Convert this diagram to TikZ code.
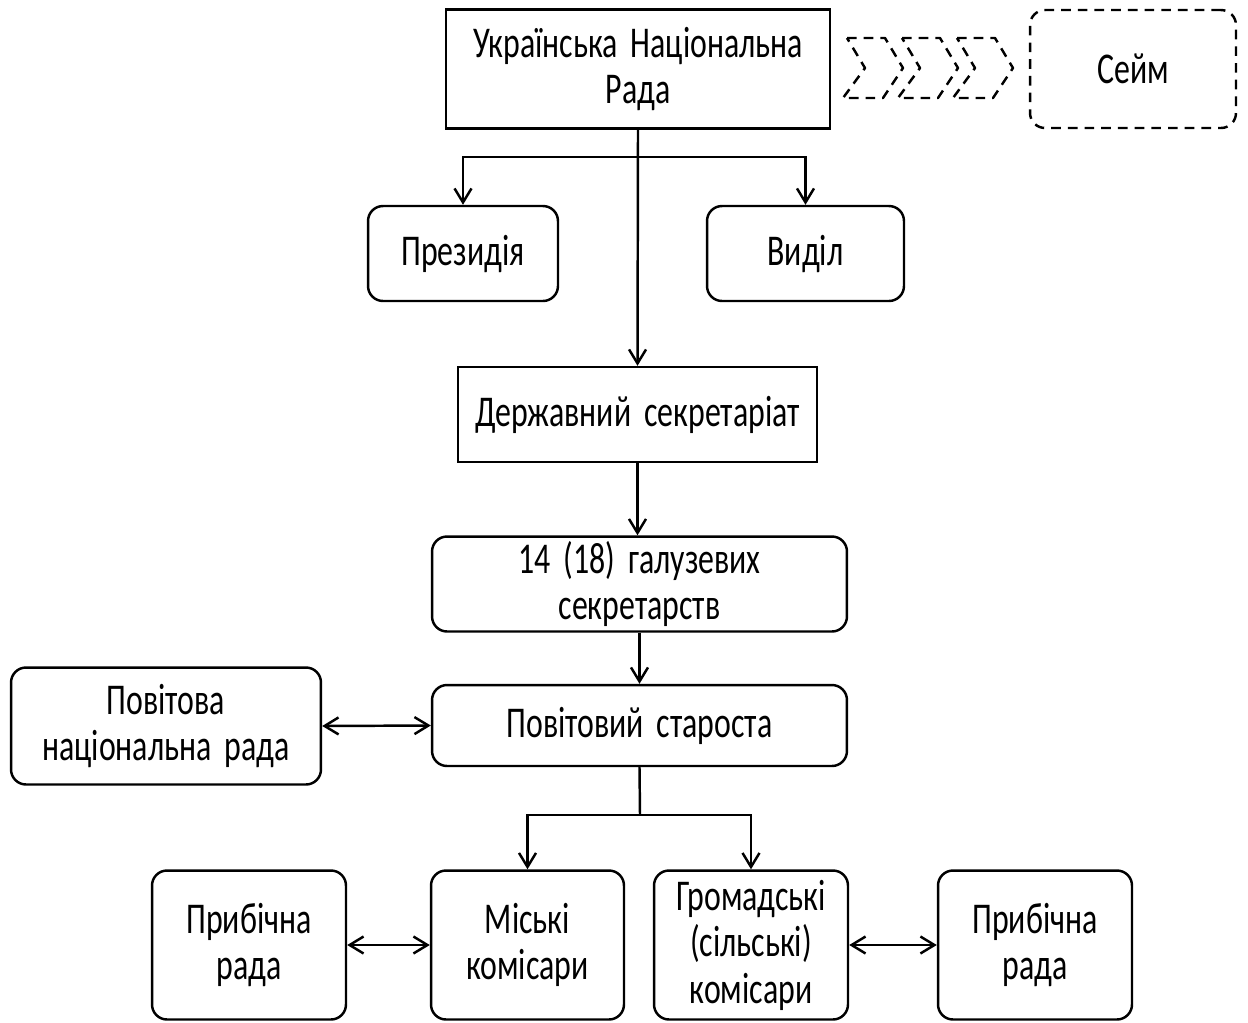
\documentclass[tikz,border=0pt]{standalone}
\usepackage{fontspec}
\setmainfont{Carlito}[FakeStretch=0.725, WordSpace=1.8]
\usetikzlibrary{arrows.meta}
\tikzset{
  sqbox/.style={draw=black, line width=1.4pt, align=center, inner sep=0pt},
  rdbox/.style={sqbox, rounded corners=0.3cm},
  dshbox/.style={rdbox, dash pattern=on 5.5pt off 4pt},
  conn/.style={line width=1.4pt, -{Straight Barb[length=0.28cm,width=0.34cm]}},
  both/.style={line width=1.4pt, {Straight Barb[length=0.28cm,width=0.34cm]}-{Straight Barb[length=0.28cm,width=0.34cm]}},
  chev/.style={line width=1.4pt, draw=black, dash pattern=on 5.5pt off 4pt, line join=round},
}

\begin{document}
\begin{tikzpicture}[x=0.02cm, y=-0.02cm, every node/.style={font=\fontsize{25}{26.5}\selectfont}]
\useasboundingbox (0,0) rectangle (1248,1022);
% top level
\node[sqbox, minimum width=7.68cm, minimum height=2.38cm] (unr) at (638,69) {Українська Національна\\Рада};
\node[dshbox, minimum width=4.12cm, minimum height=2.36cm] (seim) at (1133,69) {Сейм};
\foreach \x in {843,898,953}
  \draw[chev] (\x+4,38) -- (\x+42,38) -- (\x+60,68) -- (\x+40,98) -- (\x,98) -- (\x+22,68) -- cycle;
\node[rdbox, minimum width=3.8cm, minimum height=1.9cm] (prez) at (463,253.5) {Президія};
\node[rdbox, minimum width=3.94cm, minimum height=1.9cm] (vydil) at (805.5,253.5) {Виділ};
\node[sqbox, minimum width=7.18cm, minimum height=1.9cm] (dsek) at (637.5,414.5) {Державний секретаріат};
\node[rdbox, minimum width=8.3cm, minimum height=1.9cm] (galuz) at (639.5,584) {14 (18) галузевих\\секретарств};
% county level
\node[rdbox, minimum width=8.3cm, minimum height=1.62cm] (starosta) at (639.5,725.5) {Повітовий староста};
\node[rdbox, minimum width=6.2cm, minimum height=2.34cm] (pnr) at (166,726) {Повітова\\національна рада};
\node[rdbox, minimum width=3.86cm, minimum height=2.98cm] (misk) at (527.5,945) {Міські\\комісари};
\node[rdbox, minimum width=3.88cm, minimum height=2.98cm] (hrom) at (751,945) {Громадські\\(сільські)\\комісари};
\node[rdbox, minimum width=3.88cm, minimum height=2.98cm] (prl) at (249,945) {Прибічна\\рада};
\node[rdbox, minimum width=3.88cm, minimum height=2.98cm] (prr) at (1035,945) {Прибічна\\рада};
% connectors
\coordinate (split1) at (638,157);
\coordinate (split2) at (640,815);
\draw[conn] (unr.south) -- (dsek.north);
\draw[conn] (split1) -| (prez.north);
\draw[conn] (split1) -| (vydil.north);
\draw[conn] (dsek.south) -- (dsek.south |- galuz.north);
\draw[conn] (galuz.south) -- (starosta.north);
\draw[both] (pnr.east) -- (starosta.west);
\draw[line width=1.4pt] (starosta.south) -- (split2);
\draw[conn] (split2) -| (misk.north);
\draw[conn] (split2) -| (hrom.north);
\draw[both] (prl.east) -- (misk.west);
\draw[both] (hrom.east) -- (prr.west);
\end{tikzpicture}
\end{document}
